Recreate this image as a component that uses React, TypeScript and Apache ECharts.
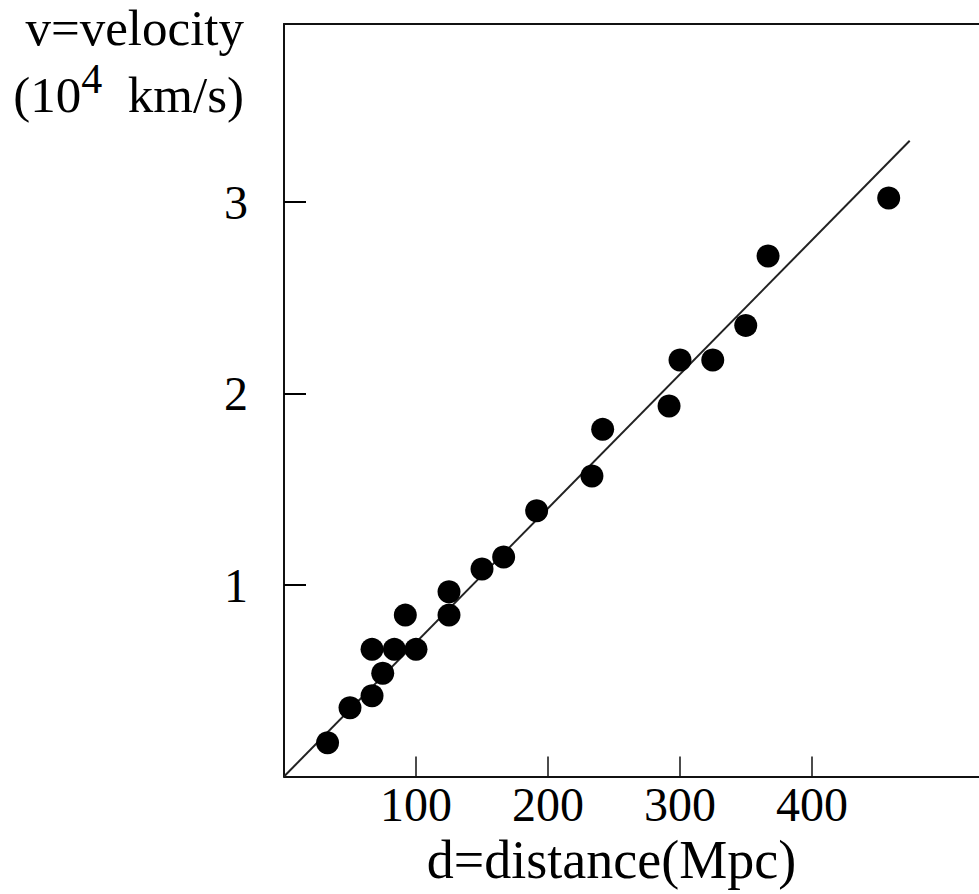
import React, { useEffect, useRef } from "react";
import * as echarts from "echarts";

// Distance (Mpc) and velocity (10^4 km/s)
const distance = [33, 50, 66.7, 74.8, 66.7, 83.6, 100, 91.9, 125, 125, 150, 166.4, 191.4, 233.3, 241.4, 291.7, 300, 324.8, 349.8, 366.7, 458.1];
const velocity = [0.176, 0.359, 0.422, 0.539, 0.664, 0.664, 0.664, 0.843, 0.843, 0.965, 1.084, 1.146, 1.388, 1.569, 1.813, 1.935, 2.175, 2.175, 2.356, 2.718, 3.021];
// Fitted line end points
const fitD = [0, 474];
const fitV = [0, 3.32];
const xTicks = [100, 200, 300, 400];
const yTicks = [1, 2, 3];

const FONT = "'Liberation Serif', 'Times New Roman', serif";

export default function App() {
  const ref = useRef<HTMLDivElement>(null);
  useEffect(() => {
    if (!ref.current) return;
    const chart = echarts.init(ref.current, null, { renderer: "svg" });
    const points = distance.map((d, i) => [d, velocity[i]]);
    const line = fitD.map((d, i) => [d, fitV[i]]);
    chart.setOption({
      animation: false,
      backgroundColor: "#fff",
      textStyle: { fontFamily: FONT, color: "#000" },
      grid: { left: 284, top: 24, right: 0, bottom: 117.5, containLabel: false },
      xAxis: [
        {
          type: "value",
          min: 0,
          max: 526.5,
          interval: 100,
          position: "bottom",
          splitLine: { show: false },
          axisLine: { show: true, onZero: false, lineStyle: { color: "#111", width: 2 } },
          axisTick: { show: true, inside: true, length: 20, customValues: xTicks, lineStyle: { color: "#111", width: 1.5 } },
          axisLabel: { show: true, customValues: xTicks, margin: 4, fontSize: 48, fontFamily: FONT, color: "#000" },
          name: "d=distance(Mpc)",
          nameLocation: "middle",
          nameGap: 44,
          nameTextStyle: { fontSize: 54, fontFamily: FONT, color: "#000", lineHeight: 54, verticalAlign: "top", padding: [0, 40, 0, 0] },
        },
        {
          type: "value",
          min: 0,
          max: 526.5,
          position: "top",
          splitLine: { show: false },
          axisLine: { show: true, onZero: false, lineStyle: { color: "#111", width: 2 } },
          axisTick: { show: false },
          axisLabel: { show: false },
        },
      ],
      yAxis: {
        type: "value",
        min: 0,
        max: 3.93,
        interval: 1,
        splitLine: { show: false },
        axisLine: { show: true, onZero: false, lineStyle: { color: "#111", width: 2 } },
        axisTick: { show: true, inside: true, length: 22, customValues: yTicks, lineStyle: { color: "#000", width: 2 } },
        axisLabel: { show: true, customValues: yTicks, margin: 36, fontSize: 48, fontFamily: FONT, color: "#000" },
        name: "{a|v=velocity}\n{a|(10}{s|4}{a|  km/s)}",
        nameLocation: "end",
        nameGap: 30,
        nameTextStyle: {
          align: "right",
          verticalAlign: "top",
          padding: [0, 40, 0, 0],
          rich: {
            a: { fontSize: 51, fontFamily: FONT, color: "#000", lineHeight: 67 },
            s: { fontSize: 42, fontFamily: FONT, color: "#000", lineHeight: 67, padding: [0, 0, 32, 0] },
          },
        },
      },
      series: [
        {
          type: "line",
          xAxisIndex: 0,
          data: line,
          symbol: "none",
          lineStyle: { color: "#222", width: 2 },
          z: 1,
        },
        {
          type: "scatter",
          xAxisIndex: 0,
          data: points,
          symbol: "circle",
          symbolSize: 23,
          itemStyle: { color: "#000", opacity: 1 },
          z: 2,
        },
      ],
    });
    return () => chart.dispose();
  }, []);
  return <div ref={ref} style={{ position: "absolute", left: 0, top: 0, width: 979, height: 894 }} />;
}
